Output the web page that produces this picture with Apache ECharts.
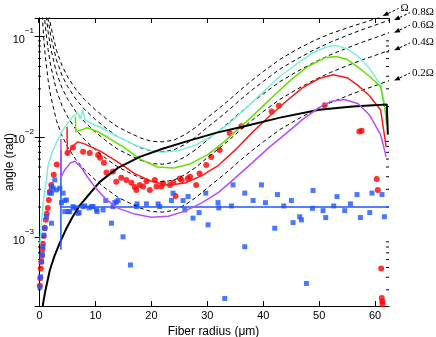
<!DOCTYPE html>
<html>
<head>
<meta charset="utf-8">
<script src="https://cdn.jsdelivr.net/npm/echarts@6/dist/echarts.min.js"></script>
<style>
  html, body { margin: 0; padding: 0; background: #fff; }
  #chart { width: 436px; height: 337px; }
</style>
</head>
<body>
<div id="chart"></div>
<script>
// radius grid shared by the dashed (fraction of Omega) curves
const dashRadius = [0.3, 0.5, 0.75, 1, 1.5, 2, 3, 4, 5, 6.5, 8, 10, 12, 14, 16, 18, 20, 22, 24, 26, 28, 30, 32, 34, 36, 38, 40, 43, 46, 49, 52, 55, 58, 60, 62.5]
const omega02 = [0.26, 0.15, 0.092, 0.064, 0.037, 0.025, 0.0145, 0.0102, 0.0079, 0.0059, 0.0047, 0.0037, 0.003, 0.0025, 0.0022, 0.00195, 0.0018, 0.00178, 0.00185, 0.0021, 0.0025, 0.0031, 0.0038, 0.0047, 0.0059, 0.0073, 0.0089, 0.0118, 0.0148, 0.0182, 0.0218, 0.0255, 0.0295, 0.0322, 0.0362]
const omega04 = [0.52, 0.30, 0.184, 0.128, 0.074, 0.050, 0.029, 0.0204, 0.0158, 0.0118, 0.0094, 0.0074, 0.006, 0.005, 0.0044, 0.0039, 0.0036, 0.00356, 0.0037, 0.0042, 0.005, 0.0062, 0.0076, 0.0094, 0.0118, 0.0146, 0.0178, 0.0236, 0.0296, 0.0364, 0.0436, 0.051, 0.059, 0.0644, 0.0724]
const omega06 = [0.78, 0.45, 0.276, 0.192, 0.111, 0.075, 0.0435, 0.0306, 0.0237, 0.0177, 0.0141, 0.0111, 0.009, 0.0075, 0.0066, 0.00585, 0.0054, 0.00534, 0.00555, 0.0063, 0.0075, 0.0093, 0.0114, 0.0141, 0.0177, 0.0219, 0.0267, 0.0354, 0.0444, 0.0546, 0.0654, 0.0765, 0.0885, 0.0966, 0.1086]
const omega08 = [1.04, 0.60, 0.368, 0.256, 0.148, 0.100, 0.058, 0.0408, 0.0316, 0.0236, 0.0188, 0.0148, 0.012, 0.010, 0.0088, 0.0078, 0.0072, 0.00712, 0.0074, 0.0084, 0.010, 0.0124, 0.0152, 0.0188, 0.0236, 0.0292, 0.0356, 0.0472, 0.0592, 0.0728, 0.0872, 0.102, 0.118, 0.1288, 0.1448]
const omega10 = [1.3, 0.75, 0.46, 0.32, 0.185, 0.125, 0.0725, 0.051, 0.0395, 0.0295, 0.0235, 0.0185, 0.015, 0.0125, 0.011, 0.00975, 0.009, 0.0089, 0.00925, 0.0105, 0.0125, 0.0155, 0.019, 0.0235, 0.0295, 0.0365, 0.0445, 0.059, 0.074, 0.09, 0.106, 0.121, 0.137, 0.149, 0.166]
const omegaNames = ['Ω', '0.8Ω', '0.6Ω', '0.4Ω', '0.2Ω']

// solid model curves [radius, angle]
const cyanCurve = [[0.05, 8.5e-4], [0.32, 1.38e-3], [0.7, 2.4e-3], [1.22, 3.7e-3], [1.45, 5.0e-3], [2.2, 7e-3], [3.24, 9.3e-3], [4.1, 1.15e-2], [5.03, 1.37e-2], [6.0, 1.6e-2], [6.8, 1.73e-2], [7.3, 1.5e-2], [7.7, 1.86e-2], [8.1, 1.48e-2], [9.5, 1.33e-2], [11.06, 1.23e-2], [13.97, 1.0e-2], [17.0, 8.3e-3], [20.2, 7.2e-3], [22, 7.0e-3], [25, 7.3e-3], [28, 8.3e-3], [31, 1.03e-2], [34, 1.37e-2], [37, 1.95e-2], [40, 2.8e-2], [43, 4.0e-2], [46, 5.3e-2], [49, 6.9e-2], [51.5, 7.9e-2], [53, 8.1e-2], [55, 7.5e-2], [57, 6.3e-2], [59, 4.8e-2], [61, 3.3e-2], [61.8, 1.9e-2], [62.2, 1.3e-2]]
const greenCurve = [[6.4, 0.0159], [6.45, 0.0112], [7.5, 0.0117], [8.5, 0.0123], [10, 0.0115], [12, 0.0100], [15, 0.0079], [18, 0.0060], [21, 0.0050], [24, 0.0049], [27, 0.0054], [30, 0.0066], [33, 0.0089], [36, 0.0126], [39, 0.018], [42, 0.026], [45, 0.037], [48, 0.050], [51, 0.061], [53, 0.063], [55, 0.059], [57, 0.049], [59, 0.040], [61, 0.0315], [61.8, 0.0185], [62.1, 0.013]]
const redCurve = [[4.9, 0.0126], [4.95, 0.0066], [5.3, 0.0071], [6, 0.0081], [6.8, 0.0089], [8, 0.0085], [9.5, 0.0078], [11, 0.0071], [14, 0.0056], [17, 0.0043], [20, 0.0036], [23, 0.0033], [26, 0.00347], [29, 0.0041], [32, 0.0052], [35, 0.0074], [38, 0.011], [41, 0.0158], [44, 0.0223], [47, 0.0307], [50, 0.038], [52.5, 0.0415], [55, 0.0387], [57, 0.0323], [59, 0.0256], [61, 0.0185], [62, 0.0079]]
const purpleCurve = [[3.8, 0.0095], [3.85, 0.0040], [4.5, 0.0047], [5.5, 0.0055], [6.3, 0.0057], [7.5, 0.0049], [8.5, 0.0040], [10, 0.0031], [12, 0.00235], [14, 0.00195], [17, 0.0017], [20, 0.00158], [23, 0.00162], [26, 0.00182], [29, 0.0022], [32, 0.0028], [35, 0.0039], [38, 0.0055], [41, 0.0078], [44, 0.0107], [47, 0.0148], [50, 0.0195], [52, 0.0224], [54.5, 0.0235], [57, 0.0213], [59, 0.0165], [61, 0.0105], [62, 0.0063]]
const blackCurve = [[0.55, 2.0e-4], [0.61, 2.2e-4], [1.0, 2.9e-4], [1.81, 4.7e-4], [2.6, 6.4e-4], [3.6, 8.8e-4], [4.7, 1.2e-3], [5.9, 1.6e-3], [7.1, 2.05e-3], [8.4, 2.5e-3], [10.75, 3.56e-3], [14, 4.9e-3], [17.9, 6.3e-3], [22, 7.6e-3], [26, 8.9e-3], [31.7, 1.1e-2], [36.3, 1.26e-2], [43, 1.55e-2], [50, 1.86e-2], [56, 2.0e-2], [61.2, 2.08e-2], [62.1, 2.1e-2], [62.3, 1.05e-2]]
const blueLine = [[3.8, 7.5e-4], [3.8, 7.4e-3], [3.8, 2.0e-3], [62.5, 2.0e-3]]

// measured points
const redDots = [[0.02, 3.3e-4], [0.1, 3.9e-4], [0.2, 4.9e-4], [0.29, 5.7e-4], [0.38, 6.5e-4], [0.47, 7.5e-4], [0.55, 8.6e-4], [0.73, 1.03e-3], [0.91, 1.24e-3], [1.09, 1.49e-3], [1.27, 1.71e-3], [1.45, 1.96e-3], [1.63, 2.35e-3], [1.81, 2.83e-3], [2.08, 3.32e-3], [2.52, 4.2e-3], [3.06, 5.3e-3], [4.97, 6.9e-3], [5.97, 7.8e-3], [7.76, 7.1e-3], [8.96, 6.9e-3], [10.45, 6.6e-3], [10.8, 6.2e-3], [11.5, 5.5e-3], [11.95, 4.4e-3], [13.1, 4.5e-3], [13.7, 3.56e-3], [14.6, 3.9e-3], [15.5, 3.72e-3], [16.4, 3.48e-3], [17.0, 3.17e-3], [17.3, 2.96e-3], [17.9, 3.32e-3], [18.5, 3.2e-3], [19.1, 3.6e-3], [19.7, 2.96e-3], [20.6, 3.72e-3], [20.9, 3.2e-3], [21.8, 3.2e-3], [22.1, 3.45e-3], [23.3, 3.32e-3], [23.9, 3.5e-3], [24.3, 2.58e-3], [25.1, 3.85e-3], [25.4, 3.72e-3], [26.5, 3.85e-3], [26.9, 4.0e-3], [28.0, 3.32e-3], [28.6, 4.3e-3], [29.8, 5.25e-3], [30.7, 6.3e-3], [32.2, 7.4e-3], [34.0, 1.09e-2], [36.1, 1.27e-2], [41.5, 1.78e-2], [42.8, 2.04e-2], [51.0, 2.06e-2], [57.2, 1.13e-2], [57.6, 1.15e-2], [60.3, 3.8e-3], [60.5, 2.96e-3], [61.1, 4.9e-4], [61.2, 2.48e-4], [61.3, 2.3e-4], [61.35, 2.15e-4]]
const blueSquares = [[0.05, 3.2e-4], [0.14, 4.05e-4], [0.32, 5.7e-4], [0.5, 6.7e-4], [0.61, 8.0e-4], [0.73, 1.05e-3], [0.91, 1.22e-3], [1.22, 1.6e-3], [2.11, 1.38e-3], [1.81, 2.75e-3], [2.11, 2.75e-3], [2.11, 3.19e-3], [2.4, 3.08e-3], [2.7, 3.72e-3], [3.0, 2.96e-3], [3.6, 3.08e-3], [3.9, 2.21e-3], [4.19, 2.75e-3], [4.49, 2.32e-3], [4.79, 2.35e-3], [4.49, 1.8e-3], [5.08, 1.8e-3], [5.38, 1.8e-3], [5.97, 2.02e-3], [6.1, 1.96e-3], [6.58, 1.96e-3], [6.87, 1.73e-3], [7.05, 1.76e-3], [7.76, 2.02e-3], [8.07, 2.05e-3], [8.84, 1.96e-3], [9.27, 2.02e-3], [9.55, 2.02e-3], [10.16, 1.87e-3], [10.27, 1.8e-3], [11.34, 1.87e-3], [11.82, 2.32e-3], [12.84, 1.38e-3], [13.13, 2.02e-3], [13.43, 2.21e-3], [13.74, 2.25e-3], [14.03, 2.32e-3], [14.92, 1.01e-3], [16.24, 5.3e-4], [17.32, 2.02e-3], [17.42, 2.15e-3], [19.1, 2.15e-3], [21.18, 2.15e-3], [21.48, 2.02e-3], [23.58, 2.32e-3], [23.86, 2.75e-3], [25.65, 2.32e-3], [25.96, 1.87e-3], [26.55, 2.54e-3], [27.44, 1.55e-3], [28.52, 1.76e-3], [29.71, 2.75e-3], [30.13, 1.33e-3], [31.91, 2.21e-3], [32.04, 1.96e-3], [33.11, 2.46e-4], [34.31, 2.05e-3], [34.6, 3.32e-3], [36.69, 2.75e-3], [36.69, 8.05e-4], [38.18, 2.32e-3], [39.68, 3.32e-3], [40.39, 2.21e-3], [42.06, 1.23e-3], [42.54, 2.66e-3], [43.67, 2.05e-3], [45.04, 2.32e-3], [45.33, 1.4e-3], [46.53, 1.6e-3], [46.83, 1.49e-3], [47.73, 3.47e-4], [48.91, 2.92e-3], [48.8, 1.94e-3], [50.7, 1.84e-3], [51.18, 1.57e-3], [52.61, 2.05e-3], [53.2, 2.54e-3], [54.58, 1.84e-3], [55.6, 2.15e-3], [56.78, 2.66e-3], [57.39, 1.57e-3], [59.05, 1.76e-3], [59.46, 2.75e-3], [61.25, 2.66e-3], [61.68, 1.6e-3]]

const xMin = -0.3, xMax = 62.5
const yMin = 2.07e-4, yMax = 0.152
const font = 'Liberation Sans, Arial, sans-serif'

const chart = echarts.init(document.getElementById('chart'), null, { renderer: 'canvas' })

const dashSets = [omega10, omega08, omega06, omega04, omega02]
const dashSeries = dashSets.map(vals => ({
  type: 'line',
  data: dashRadius.map((r, i) => [r, vals[i]]),
  showSymbol: false,
  silent: true,
  lineStyle: { color: '#000', width: 1, type: [4, 3] }
}))

function curve (data, color, width) {
  return {
    type: 'line',
    data: data,
    showSymbol: false,
    silent: true,
    lineStyle: { color: color, width: width || 1.5 }
  }
}

const sideTick = { inside: true, length: 5, lineStyle: { color: '#000' } }

chart.setOption({
  animation: false,
  grid: { left: 38, right: 47, top: 18, bottom: 31, outerBoundsMode: 'none', containLabel: false },
  xAxis: [
    {
      type: 'value', min: xMin, max: xMax,
      name: 'Fiber radius (μm)', nameLocation: 'middle', nameGap: 15,
      nameTextStyle: { fontFamily: font, fontSize: 12, color: '#000' },
      axisLine: { lineStyle: { color: '#000', width: 1 } },
      axisTick: sideTick,
      axisLabel: { color: '#000', fontFamily: font, fontSize: 11, margin: 4, showMinLabel: false, showMaxLabel: false },
      splitLine: { show: false }
    },
    {
      type: 'value', min: xMin, max: xMax, position: 'top',
      axisLine: { lineStyle: { color: '#000', width: 1 } },
      axisTick: sideTick,
      axisLabel: { show: false },
      splitLine: { show: false }
    }
  ],
  yAxis: [
    {
      type: 'log', min: yMin, max: yMax, logBase: 10,
      axisLine: { lineStyle: { color: '#000', width: 1 } },
      axisTick: sideTick,
      axisLabel: {
        color: '#000', fontFamily: font, fontSize: 11, margin: 4,
        showMinLabel: false, showMaxLabel: false,
        formatter: function (v) {
          const e = Math.round(Math.log10(v))
          return '{b|10}{sup|' + (e < 0 ? '\u2212' : '') + Math.abs(e) + '}'
        },
        rich: {
          b: { fontSize: 11, fontFamily: font, color: '#000', lineHeight: 18, verticalAlign: 'bottom' },
          sup: { fontSize: 8, fontFamily: font, color: '#000', lineHeight: 18, verticalAlign: 'top' }
        }
      },
      splitLine: { show: false }
    },
    {
      type: 'log', min: yMin, max: yMax, logBase: 10, position: 'right',
      axisLine: { lineStyle: { color: '#000', width: 1 } },
      axisTick: sideTick,
      axisLabel: { show: false },
      splitLine: { show: false }
    }
  ],
  series: dashSeries.concat([
    curve(cyanCurve, '#7eeedc'),
    curve(greenCurve, '#66e000'),
    curve(redCurve, '#ff1a1a'),
    curve(blackCurve, '#000', 2),
    curve(blueLine, '#2255ff'),
    curve(purpleCurve, '#b84dff'),
    {
      type: 'scatter', data: redDots, symbol: 'circle', symbolSize: 6,
      itemStyle: { color: '#ff0000' }, silent: true
    },
    {
      type: 'scatter', data: blueSquares, symbol: 'rect', symbolSize: 5,
      itemStyle: { color: '#2255ff' }, silent: true
    }
  ])
})

// minor log ticks, the y title and the Omega annotations, placed through the axes
const graphics = []
const xl = chart.convertToPixel({ xAxisIndex: 0 }, xMin)
const xr = chart.convertToPixel({ xAxisIndex: 0 }, xMax)
const yTop = chart.convertToPixel({ yAxisIndex: 0 }, yMax)
const yBot = chart.convertToPixel({ yAxisIndex: 0 }, yMin)
for (let d = -4; d <= -1; d++) {
  for (let m = 2; m <= 9; m++) {
    const v = m * Math.pow(10, d)
    if (v <= yMin || v >= yMax) continue
    const py = chart.convertToPixel({ yAxisIndex: 0 }, v)
    graphics.push({ type: 'line', shape: { x1: xl, y1: py, x2: xl + 3, y2: py }, style: { stroke: '#000', lineWidth: 1 }, silent: true })
    graphics.push({ type: 'line', shape: { x1: xr, y1: py, x2: xr - 3, y2: py }, style: { stroke: '#000', lineWidth: 1 }, silent: true })
  }
}

graphics.push({
  type: 'text',
  x: 10, y: (yTop + yBot) / 2,
  rotation: Math.PI / 2,
  style: { text: 'angle (rad)', fill: '#000', font: '12px "Liberation Sans", Arial, sans-serif', align: 'center', verticalAlign: 'middle' },
  silent: true
})

dashSets.forEach((vals, k) => {
  let rx = dashRadius[dashRadius.length - 1]
  let ry = vals[vals.length - 1]
  let dy = 0
  if (ry > yMax) {
    let j = vals.length - 1
    while (j > 0 && vals[j] > yMax) j--
    const t = (Math.log(yMax) - Math.log(vals[j])) / (Math.log(vals[j + 1]) - Math.log(vals[j]))
    rx = dashRadius[j] + t * (dashRadius[j + 1] - dashRadius[j])
    ry = yMax
    dy = -2
  }
  const p = chart.convertToPixel({ gridIndex: 0 }, [rx, ry])
  const tip = [p[0] + 5, p[1] + dy]
  const ux = 0.905, uy = -0.424
  const nx = 0.424, ny = 0.905
  const bx = tip[0] + 6 * ux, by = tip[1] + 6 * uy
  graphics.push({
    type: 'line',
    shape: { x1: bx, y1: by, x2: tip[0] + 16, y2: tip[1] - 7.5 },
    style: { stroke: '#000', lineWidth: 1, lineDash: [3, 2] },
    silent: true
  })
  graphics.push({
    type: 'polygon',
    shape: { points: [tip, [bx + 2.3 * nx, by + 2.3 * ny], [bx - 2.3 * nx, by - 2.3 * ny]] },
    style: { fill: '#000' },
    silent: true
  })
  graphics.push({
    type: 'text',
    x: tip[0] + 18, y: tip[1] - 8,
    style: { text: omegaNames[k], fill: '#000', font: '11px "Liberation Serif", serif', verticalAlign: 'middle', align: 'left' },
    silent: true
  })
})

chart.setOption({ graphic: graphics })
</script>
</body>
</html>
